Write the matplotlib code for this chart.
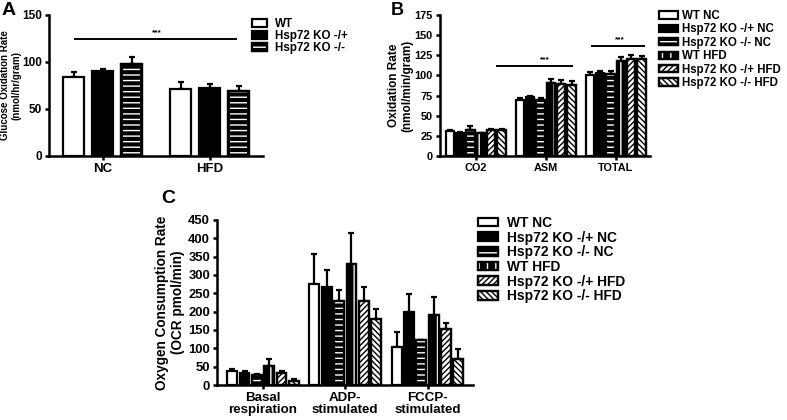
import numpy as np
import matplotlib
matplotlib.use("Agg")
import matplotlib.pyplot as plt
from matplotlib.patches import Patch
from matplotlib.legend_handler import HandlerTuple

plt.rcParams['font.family'] = ['Liberation Sans', 'DejaVu Sans']
plt.rcParams['font.weight'] = 'bold'
plt.rcParams['hatch.linewidth'] = 1.0

# --- veri ---
a_gruplar = ["NC", "HFD"]
a_seriler = ["WT", "Hsp72 KO -/+", "Hsp72 KO -/-"]
a_deger = [[84, 71], [90, 72], [98, 69]]
a_hata = [[5, 8], [3, 5], [7, 5]]

b_gruplar = ["CO2", "ASM", "TOTAL"]
b_seriler = ["WT NC", "Hsp72 KO -/+ NC", "Hsp72 KO -/- NC",
             "WT HFD", "Hsp72 KO -/+ HFD", "Hsp72 KO -/- HFD"]
b_deger = [[31, 70, 101], [29, 73, 103], [32, 69, 102],
           [28, 91, 118], [32, 89, 121], [32, 88, 120]]
b_hata = [[1, 2, 3], [1, 2, 2], [5, 3, 4], [1, 5, 5], [1, 5, 4], [1, 5, 4]]

c_gruplar = ["Basal\nrespiration", "ADP-\nstimulated", "FCCP-\nstimulated"]
c_seriler = b_seriler
c_deger = [[37, 275, 103], [32, 268, 200], [26, 230, 122],
           [52, 329, 191], [33, 230, 152], [12, 179, 71]]
c_hata = [[8, 82, 41], [5, 46, 48], [3, 29, 0], [18, 85, 48], [4, 37, 18], [5, 27, 26]]

# dolgu / tarama stilleri (arka plan, tarama, tarama rengi)
stiller = [("white", None, None), ("black", None, None), ("black", "---", "white"),
           ("black", "||", "white"), ("white", "//////", "black"), ("white", "\\\\\\\\\\\\", "black")]


def cubuk(ax, x, h, w, stil, err):
    fc, hatch, hc = stil
    ax.bar(x, h, w, color=fc, edgecolor="black", linewidth=1.6, zorder=2)
    if hatch:
        ax.bar(x, h, w * 0.8, color="none", edgecolor=hc, hatch=hatch, linewidth=0, zorder=3)
        ax.bar(x, h, w, color="none", edgecolor="black", linewidth=1.6, zorder=4)
    ax.errorbar(x, h, yerr=[np.zeros(len(h)), err], fmt="none", ecolor="black",
                elinewidth=1.6, capsize=2, capthick=1.6, zorder=1)


def tutamac(stil):
    fc, hatch, hc = stil
    if not hatch:
        return Patch(facecolor=fc, edgecolor="black", linewidth=1.6)
    return (Patch(facecolor=fc, edgecolor="black", linewidth=1.6),
            Patch(facecolor="none", edgecolor=hc, hatch=hatch, linewidth=0),
            Patch(facecolor="none", edgecolor="black", linewidth=1.6))


def eksen_duzen(ax, fs, xfs):
    for s in ["top", "right"]:
        ax.spines[s].set_visible(False)
    for s in ["left", "bottom"]:
        ax.spines[s].set_linewidth(1.8)
    ax.tick_params(width=1.8, length=3, labelsize=fs, pad=2)
    ax.tick_params(axis="x", labelsize=xfs)
    for lab in ax.get_xticklabels() + ax.get_yticklabels():
        lab.set_fontweight("bold")


def lejant(handles, labels, x, y, fs, hl, ls, htp):
    fig.legend(handles, labels, loc="upper left", bbox_to_anchor=(x, y),
               frameon=False, handlelength=hl, handleheight=0.6, labelspacing=ls,
               borderpad=0, borderaxespad=0, handletextpad=htp,
               handler_map={tuple: HandlerTuple(ndivide=1)},
               prop={"weight": "bold", "size": fs})


fig = plt.figure(figsize=(7.87, 4.2), dpi=100)

# --- A ---
axA = fig.add_axes([0.0623, 0.6286, 0.272, 0.3357])
xa = np.arange(len(a_gruplar))
slot = 0.271
for i in range(3):
    cubuk(axA, xa + (i - 1) * slot, a_deger[i], 0.19, stiller[i], a_hata[i])
axA.set_xlim(-0.5, 1.5)
axA.set_ylim(0, 150)
axA.set_yticks([0, 50, 100, 150])
axA.set_xticks(xa, a_gruplar)
axA.set_ylabel("Glucose Oxidation Rate\n(nmol/hr/gram)", fontsize=7, fontweight="bold")
axA.yaxis.set_label_coords(-0.128, 0.5)
axA.plot([-0.26, 1.25], [124, 124], color="black", lw=1.4)
axA.text(0.51, 127, "***", ha="center", va="bottom", fontsize=6)
eksen_duzen(axA, 8.5, 9.5)
lejant([tutamac(stiller[i]) for i in range(3)], a_seriler, 0.320, 0.957, 8.4, 1.3, 0.0, 0.7)

# --- B ---
axB = fig.add_axes([0.559, 0.6286, 0.267, 0.3357])
xb = np.arange(len(b_gruplar))
slot = 0.148
for i in range(6):
    cubuk(axB, xb + (i - 2.5) * slot, b_deger[i], 0.12, stiller[i], b_hata[i])
axB.set_xlim(-0.51, 2.49)
axB.set_ylim(0, 175)
axB.set_yticks(np.arange(0, 176, 25))
axB.set_xticks(xb, b_gruplar)
axB.set_ylabel("Oxidation Rate\n(nmol/min/gram)", fontsize=8.5, fontweight="bold")
axB.yaxis.set_label_coords(-0.125, 0.5)
axB.plot([0.31, 1.37], [112, 112], color="black", lw=1.4)
axB.text(0.99, 115, "***", ha="center", va="bottom", fontsize=6)
axB.plot([1.66, 2.41], [137, 137], color="black", lw=1.4)
axB.text(2.06, 140, "***", ha="center", va="bottom", fontsize=6)
eksen_duzen(axB, 7.9, 7.8)
lejant([tutamac(s) for s in stiller], b_seriler, 0.837, 0.976, 8.3, 1.7, 0.12, 0.35)

# --- C ---
axC = fig.add_axes([0.2757, 0.0833, 0.325, 0.393])
xc = np.arange(len(c_gruplar))
slot = 0.15
for i in range(6):
    cubuk(axC, xc + (i - 2.5) * slot, c_deger[i], 0.12, stiller[i], c_hata[i])
axC.set_xlim(-0.56, 2.55)
axC.set_ylim(0, 450)
axC.set_yticks(np.arange(0, 451, 50))
axC.set_xticks(xc, c_gruplar)
axC.set_ylabel("Oxygen Consumption Rate\n(OCR pmol/min)", fontsize=9.8, fontweight="bold")
axC.yaxis.set_label_coords(-0.125, 0.5)
eksen_duzen(axC, 9.4, 9.6)
for lab in axC.get_xticklabels():
    lab.set_linespacing(1.0)
lejant([tutamac(s) for s in stiller], c_seriler, 0.607, 0.486, 9.9, 1.5, 0.05, 0.65)

fig.text(0.002, 0.995, "A", fontsize=14, fontweight="bold", va="top")
fig.text(0.497, 0.995, "B", fontsize=13, fontweight="bold", va="top")
fig.text(0.205, 0.548, "C", fontsize=14, fontweight="bold", va="top")

fig.savefig("out.png", dpi=100)
